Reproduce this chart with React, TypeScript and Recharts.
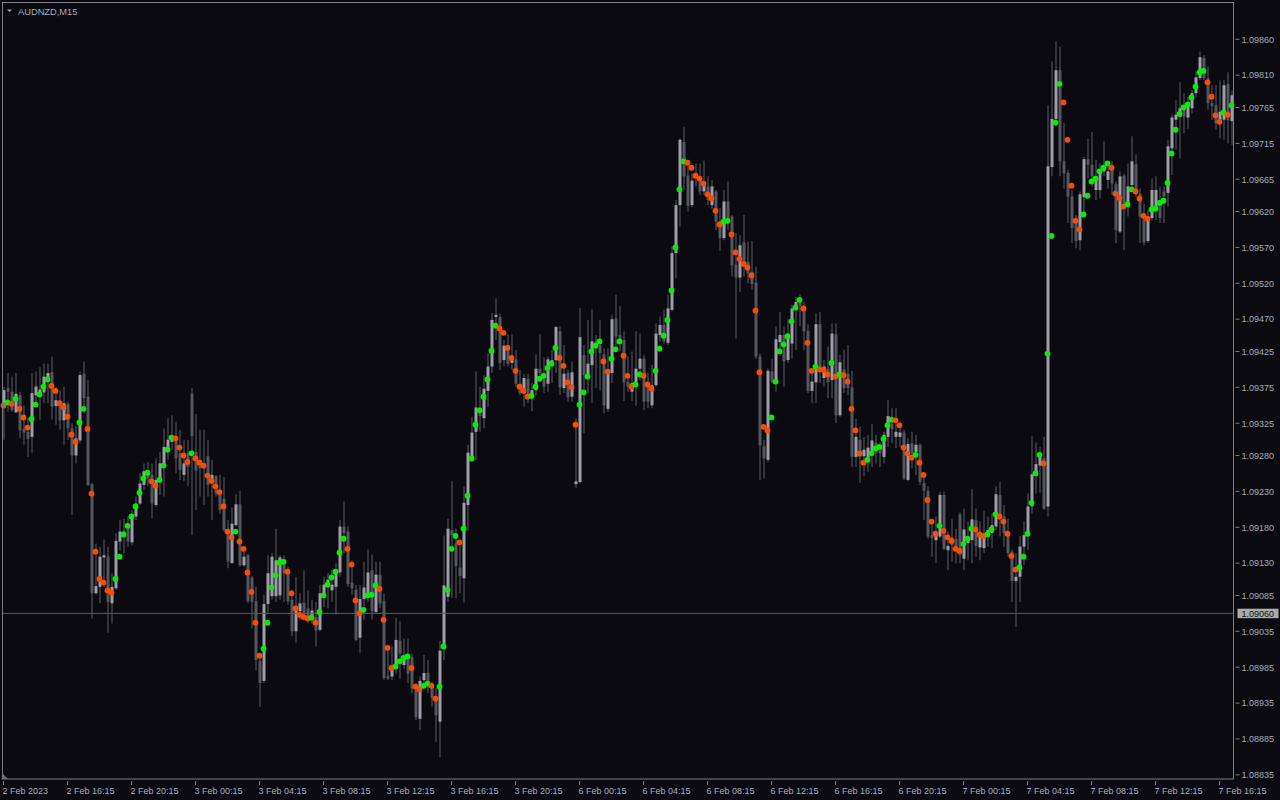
import { ComposedChart, Bar, Line, XAxis, YAxis, ReferenceLine, Cell } from "recharts";

// AUDNZD M15, 2 Feb 2023 12:15 -> 7 Feb 2023 ~17:00
// prices in points: 9350 means 1.09350
const SYMBOL = "AUDNZD,M15";

const OPEN = [
  9346, 9374, 9369, 9340, 9364, 9317, 9313, 9306, 9364, 9367,
  9368, 9385, 9396, 9349, 9356, 9329, 9352, 9318, 9280, 9301,
  9394, 9362, 9240, 9088, 9097, 9138, 9139, 9074, 9095, 9160,
  9175, 9179, 9159, 9195, 9213, 9239, 9258, 9253, 9211, 9244,
  9267, 9290, 9299, 9304, 9283, 9253, 9283, 9366, 9285, 9274,
  9269, 9279, 9241, 9251, 9232, 9220, 9176, 9130, 9183, 9212,
  9127, 9141, 9110, 9077, 8994, 8966, 9073, 9084, 9084, 9085,
  9134, 9116, 9079, 9035, 9063, 9075, 9067, 9055, 9055, 9037,
  9088, 9097, 9092, 9097, 9117, 9181, 9174, 9103, 9093, 9026,
  9080, 9086, 9120, 9062, 9114, 9077, 8973, 8972, 8983, 9022,
  8988, 8999, 8999, 8958, 8913, 8967, 8977, 8958, 8942, 8909,
  9016, 9083, 9176, 9158, 9124, 9109, 9211, 9276, 9313, 9347,
  9332, 9370, 9404, 9473, 9473, 9413, 9434, 9409, 9414, 9380,
  9367, 9387, 9364, 9371, 9401, 9395, 9380, 9407, 9413, 9453,
  9374, 9395, 9362, 9240, 9243, 9420, 9392, 9406, 9439, 9434,
  9421, 9345, 9395, 9471, 9448, 9441, 9383, 9369, 9378, 9401,
  9415, 9376, 9350, 9378, 9448, 9462, 9437, 9483, 9562, 9629,
  9717, 9670, 9629, 9673, 9666, 9648, 9655, 9629, 9648, 9606,
  9583, 9634, 9613, 9546, 9528, 9577, 9550, 9536, 9521, 9418,
  9293, 9274, 9397, 9383, 9438, 9448, 9413, 9436, 9484, 9494,
  9488, 9454, 9370, 9382, 9463, 9388, 9401, 9385, 9449, 9336,
  9400, 9394, 9375, 9278, 9302, 9279, 9276, 9285, 9298, 9292,
  9278, 9306, 9324, 9306, 9306, 9312, 9246, 9297, 9285, 9295,
  9242, 9231, 9169, 9162, 9167, 9225, 9148, 9166, 9164, 9198,
  9136, 9158, 9162, 9190, 9152, 9151, 9169, 9172, 9181, 9225,
  9195, 9172, 9146, 9105, 9111, 9153, 9172, 9209, 9254, 9266,
  9276, 9209, 9682, 9749, 9817, 9690, 9674, 9641, 9611, 9580,
  9640, 9693, 9685, 9650, 9650, 9676, 9664, 9678, 9658, 9592,
  9670, 9631, 9657, 9686, 9645, 9615, 9579, 9611, 9624, 9636,
  9648, 9646, 9708, 9748, 9752, 9768, 9751, 9764, 9785, 9806,
  9834, 9806, 9771, 9768, 9748, 9748, 9798, 9746,
];

const HIGH = [
  9376, 9395, 9390, 9395, 9369, 9350, 9332, 9395, 9397, 9403,
  9408, 9408, 9418, 9376, 9371, 9376, 9355, 9325, 9320, 9397,
  9411, 9385, 9242, 9157, 9153, 9163, 9153, 9116, 9172, 9190,
  9192, 9195, 9204, 9223, 9255, 9269, 9271, 9269, 9276, 9285,
  9318, 9332, 9336, 9327, 9316, 9302, 9302, 9374, 9338, 9316,
  9316, 9302, 9274, 9253, 9253, 9250, 9190, 9208, 9226, 9231,
  9151, 9143, 9112, 9097, 9004, 9086, 9141, 9144, 9178, 9141,
  9141, 9125, 9093, 9111, 9088, 9120, 9092, 9079, 9076, 9100,
  9111, 9116, 9120, 9130, 9190, 9216, 9181, 9134, 9100, 9100,
  9132, 9149, 9142, 9132, 9132, 9087, 9014, 9014, 9054, 9049,
  9025, 9025, 9004, 8963, 8972, 9002, 8995, 8965, 8956, 9022,
  9169, 9192, 9244, 9178, 9160, 9237, 9295, 9334, 9397, 9376,
  9392, 9422, 9479, 9499, 9478, 9441, 9449, 9449, 9427, 9399,
  9394, 9394, 9381, 9421, 9449, 9417, 9418, 9427, 9461, 9460,
  9434, 9399, 9411, 9332, 9486, 9434, 9469, 9484, 9448, 9469,
  9429, 9429, 9476, 9504, 9488, 9453, 9418, 9425, 9453, 9450,
  9420, 9395, 9406, 9464, 9474, 9483, 9504, 9572, 9636, 9722,
  9738, 9692, 9673, 9687, 9687, 9691, 9669, 9664, 9650, 9625,
  9650, 9662, 9615, 9590, 9587, 9615, 9578, 9579, 9543, 9422,
  9302, 9401, 9415, 9460, 9480, 9460, 9470, 9490, 9501, 9505,
  9494, 9463, 9397, 9478, 9480, 9413, 9432, 9464, 9464, 9420,
  9427, 9434, 9398, 9331, 9320, 9306, 9309, 9324, 9309, 9299,
  9313, 9357, 9346, 9346, 9327, 9316, 9304, 9313, 9309, 9297,
  9250, 9237, 9190, 9195, 9230, 9230, 9174, 9192, 9178, 9201,
  9206, 9188, 9233, 9206, 9188, 9203, 9195, 9199, 9237, 9243,
  9211, 9192, 9149, 9144, 9168, 9188, 9227, 9307, 9298, 9292,
  9306, 9768, 9829, 9857, 9850, 9743, 9678, 9650, 9615, 9648,
  9696, 9721, 9731, 9692, 9687, 9718, 9687, 9690, 9662, 9676,
  9673, 9687, 9725, 9700, 9652, 9631, 9622, 9666, 9669, 9655,
  9655, 9720, 9755, 9775, 9800, 9785, 9780, 9789, 9815, 9843,
  9838, 9822, 9796, 9796, 9803, 9803, 9814, 9789,
];

const LOW = [
  9302, 9341, 9341, 9340, 9304, 9295, 9278, 9284, 9348, 9330,
  9353, 9353, 9330, 9323, 9316, 9295, 9302, 9197, 9269, 9297,
  9339, 9237, 9053, 9086, 9074, 9097, 9033, 9046, 9093, 9148,
  9144, 9153, 9155, 9190, 9211, 9232, 9237, 9193, 9209, 9225,
  9223, 9274, 9288, 9255, 9246, 9244, 9237, 9169, 9204, 9223,
  9211, 9223, 9190, 9223, 9199, 9174, 9123, 9130, 9181, 9125,
  9125, 9074, 9039, 8981, 8930, 8963, 9060, 9079, 9076, 9079,
  9076, 9072, 9028, 9019, 9051, 9051, 9046, 9046, 9014, 9035,
  9069, 9067, 9076, 9058, 9111, 9144, 9097, 9086, 9021, 9005,
  9051, 9076, 9051, 9060, 9067, 8967, 8967, 8967, 8976, 8969,
  8983, 8963, 8949, 8911, 8897, 8956, 8949, 8930, 8881, 8860,
  8995, 9076, 9081, 9081, 9088, 9075, 9176, 9274, 9274, 9313,
  9318, 9348, 9395, 9441, 9399, 9404, 9404, 9399, 9376, 9364,
  9348, 9353, 9342, 9364, 9385, 9367, 9369, 9381, 9395, 9364,
  9367, 9355, 9355, 9235, 9241, 9311, 9367, 9353, 9374, 9371,
  9339, 9341, 9381, 9432, 9425, 9356, 9369, 9356, 9349, 9385,
  9343, 9346, 9346, 9376, 9439, 9436, 9434, 9481, 9527, 9599,
  9650, 9620, 9626, 9655, 9643, 9643, 9629, 9624, 9594, 9565,
  9580, 9594, 9529, 9443, 9508, 9529, 9520, 9511, 9415, 9246,
  9248, 9271, 9381, 9369, 9422, 9376, 9409, 9415, 9427, 9460,
  9427, 9367, 9353, 9353, 9381, 9376, 9360, 9360, 9325, 9334,
  9367, 9364, 9264, 9264, 9242, 9251, 9257, 9264, 9269, 9264,
  9269, 9292, 9297, 9290, 9292, 9246, 9244, 9262, 9253, 9239,
  9190, 9164, 9139, 9130, 9165, 9148, 9120, 9132, 9130, 9130,
  9120, 9134, 9130, 9139, 9134, 9144, 9153, 9151, 9176, 9167,
  9153, 9139, 9076, 9041, 9076, 9127, 9148, 9199, 9227, 9228,
  9204, 9195, 9669, 9738, 9669, 9652, 9604, 9576, 9569, 9566,
  9613, 9666, 9655, 9636, 9638, 9669, 9652, 9643, 9576, 9590,
  9566, 9613, 9650, 9641, 9576, 9573, 9576, 9608, 9608, 9604,
  9604, 9627, 9671, 9706, 9694, 9729, 9735, 9757, 9780, 9803,
  9803, 9762, 9748, 9734, 9722, 9720, 9715, 9713,
];

const CLOSE = [
  9371, 9369, 9343, 9366, 9315, 9312, 9303, 9367, 9376, 9372,
  9390, 9395, 9348, 9357, 9329, 9353, 9318, 9280, 9304, 9392,
  9360, 9239, 9088, 9098, 9139, 9141, 9076, 9097, 9161, 9174,
  9167, 9160, 9197, 9213, 9241, 9258, 9248, 9213, 9246, 9269,
  9292, 9302, 9306, 9276, 9260, 9269, 9264, 9307, 9259, 9262,
  9262, 9239, 9253, 9227, 9204, 9176, 9132, 9185, 9212, 9127,
  9139, 9077, 9076, 8995, 8963, 9073, 9116, 9139, 9134, 9138,
  9116, 9077, 9035, 9067, 9074, 9060, 9051, 9064, 9036, 9088,
  9100, 9107, 9100, 9118, 9181, 9172, 9101, 9095, 9023, 9080,
  9096, 9117, 9063, 9114, 9074, 8970, 8969, 8985, 9023, 9004,
  8999, 8976, 8955, 8915, 8966, 8977, 8958, 8942, 8918, 9008,
  9099, 9178, 9169, 9126, 9112, 9214, 9284, 9312, 9347, 9335,
  9373, 9404, 9469, 9476, 9409, 9433, 9408, 9414, 9380, 9367,
  9388, 9364, 9371, 9401, 9395, 9376, 9414, 9413, 9459, 9375,
  9394, 9361, 9396, 9244, 9445, 9392, 9408, 9439, 9432, 9423,
  9350, 9400, 9470, 9446, 9440, 9382, 9376, 9381, 9401, 9415,
  9355, 9355, 9378, 9450, 9462, 9439, 9485, 9562, 9629, 9720,
  9669, 9628, 9663, 9666, 9648, 9662, 9636, 9655, 9606, 9583,
  9634, 9608, 9545, 9528, 9573, 9548, 9534, 9519, 9418, 9294,
  9276, 9398, 9383, 9442, 9448, 9411, 9450, 9485, 9494, 9488,
  9453, 9370, 9383, 9463, 9401, 9404, 9382, 9450, 9336, 9410,
  9374, 9374, 9278, 9306, 9278, 9288, 9291, 9301, 9283, 9283,
  9309, 9335, 9317, 9313, 9312, 9248, 9296, 9283, 9295, 9243,
  9231, 9167, 9165, 9171, 9225, 9150, 9154, 9155, 9148, 9141,
  9177, 9166, 9191, 9154, 9167, 9166, 9176, 9183, 9226, 9191,
  9172, 9144, 9105, 9111, 9153, 9169, 9209, 9254, 9268, 9283,
  9206, 9683, 9749, 9817, 9690, 9673, 9641, 9597, 9579, 9644,
  9693, 9685, 9669, 9669, 9678, 9685, 9676, 9659, 9594, 9669,
  9631, 9655, 9690, 9645, 9613, 9577, 9608, 9650, 9650, 9611,
  9641, 9711, 9751, 9755, 9764, 9752, 9773, 9785, 9807, 9835,
  9806, 9771, 9767, 9743, 9759, 9796, 9747, 9782,
];

// indicator dots (one per bar)
const SIGNAL = [
  9350, 9354, 9352, 9359, 9345, 9333, 9319, 9331, 9351, 9365,
  9376, 9386, 9377, 9370, 9353, 9347, 9334, 9309, 9299, 9326,
  9345, 9317, 9227, 9146, 9108, 9103, 9092, 9089, 9108, 9139,
  9170, 9182, 9195, 9209, 9228, 9248, 9256, 9244, 9238, 9246,
  9266, 9288, 9305, 9304, 9291, 9280, 9271, 9283, 9276, 9270,
  9266, 9252, 9245, 9237, 9229, 9209, 9174, 9166, 9174, 9160,
  9150, 9117, 9090, 9047, 9001, 9011, 9047, 9096, 9113, 9131,
  9132, 9118, 9088, 9067, 9058, 9055, 9053, 9054, 9047, 9062,
  9085, 9100, 9110, 9118, 9145, 9164, 9150, 9128, 9078, 9060,
  9065, 9085, 9086, 9099, 9094, 9051, 9012, 8984, 8986, 8993,
  8998, 9000, 8984, 8958, 8954, 8959, 8962, 8959, 8941, 8958,
  9014, 9093, 9150, 9168, 9159, 9178, 9224, 9276, 9323, 9343,
  9362, 9386, 9426, 9461, 9457, 9451, 9430, 9416, 9398, 9376,
  9370, 9362, 9363, 9376, 9387, 9391, 9402, 9408, 9430, 9416,
  9405, 9382, 9375, 9323, 9351, 9368, 9390, 9425, 9433, 9439,
  9411, 9397, 9415, 9428, 9439, 9419, 9391, 9376, 9379, 9393,
  9391, 9379, 9373, 9398, 9429, 9447, 9469, 9510, 9570, 9651,
  9690, 9688, 9681, 9670, 9666, 9659, 9644, 9638, 9621, 9602,
  9606, 9607, 9588, 9563, 9554, 9547, 9542, 9531, 9482, 9396,
  9320, 9315, 9333, 9383, 9425, 9435, 9446, 9467, 9486, 9497,
  9485, 9437, 9398, 9404, 9400, 9399, 9393, 9409, 9390, 9393,
  9392, 9383, 9345, 9315, 9283, 9270, 9274, 9283, 9290, 9292,
  9303, 9322, 9330, 9329, 9322, 9291, 9283, 9277, 9281, 9270,
  9253, 9218, 9188, 9171, 9182, 9175, 9166, 9161, 9150, 9147,
  9157, 9164, 9178, 9177, 9170, 9168, 9170, 9177, 9198, 9195,
  9188, 9171, 9140, 9121, 9124, 9139, 9171, 9214, 9255, 9281,
  9269, 9422, 9586, 9744, 9798, 9772, 9720, 9656, 9607, 9595,
  9616, 9642, 9662, 9666, 9676, 9681, 9687, 9681, 9645, 9639,
  9627, 9630, 9651, 9648, 9638, 9614, 9610, 9623, 9624, 9632,
  9635, 9660, 9701, 9734, 9756, 9765, 9769, 9779, 9794, 9814,
  9816, 9800, 9780, 9754, 9745, 9758, 9755, 9768,
];

const PRICE_TICKS = [
  9860, 9810, 9765, 9715, 9665, 9620, 9570, 9520, 9470, 9425, 9375,
  9325, 9280, 9230, 9180, 9130, 9085, 9035, 8985, 8935, 8885, 8835,
];
const CURRENT_PRICE = 9060;

const TIME_TICK_BARS = [
  0, 16, 32, 48, 64, 80, 96, 112, 128, 144,
  160, 176, 192, 208, 224, 240, 256, 272, 288, 304,
];
const TIME_TICK_LABELS = [
  "2 Feb 2023", "2 Feb 16:15", "2 Feb 20:15", "3 Feb 00:15", "3 Feb 04:15",
  "3 Feb 08:15", "3 Feb 12:15", "3 Feb 16:15", "3 Feb 20:15", "6 Feb 00:15",
  "6 Feb 04:15", "6 Feb 08:15", "6 Feb 12:15", "6 Feb 16:15", "6 Feb 20:15",
  "7 Feb 00:15", "7 Feb 04:15", "7 Feb 08:15", "7 Feb 12:15", "7 Feb 16:15",
];

const BG = "#0a0a10";
const FRAME = "#7c7c84";
const LABEL = "#a3abbc";
const WICK = "#5c5c64";
const BULL = "#9e9eaa";
const BEAR = "#55555d";
const DOT_UP = "#00f000";
const DOT_DOWN = "#ff4a00";
const FONT = "'Liberation Sans', Arial, sans-serif";

const px = (p: number) => 1 + p / 100000;

const rows = OPEN.map((o, i) => {
  const c = CLOSE[i];
  return {
    i,
    wick: [px(Math.min(LOW[i], o, c)), px(Math.max(HIGH[i], o, c))],
    body: [px(Math.min(o, c)), px(Math.max(o, c))],
    up: c > o,
    signal: px(SIGNAL[i]),
    rising: i > 0 && SIGNAL[i] > SIGNAL[i - 1],
  };
});

function PriceTick(props: any) {
  const { x, y, payload } = props;
  const v: number = payload.value;
  if (Math.abs(v - px(CURRENT_PRICE)) < 1e-7) {
    return (
      <g>
        <rect x={x + 2} y={y - 4.7} width={41} height={9.5} fill="#ababab" />
        <text x={x + 6} y={y + 3.3} fill="#111" fontSize={9} fontFamily={FONT}>
          {v.toFixed(5)}
        </text>
      </g>
    );
  }
  return (
    <g>
      <line x1={x} x2={x + 4} y1={y} y2={y} stroke={FRAME} />
      <text x={x + 6} y={y + 3.3} fill={LABEL} fontSize={9} fontFamily={FONT}>
        {v.toFixed(5)}
      </text>
    </g>
  );
}

function TimeTick(props: any) {
  const { x, y, payload } = props;
  const k = TIME_TICK_BARS.indexOf(payload.value);
  return (
    <g>
      <line x1={x} x2={x} y1={y} y2={y + 4} stroke={FRAME} />
      <text x={x - 1} y={y + 13} fill={LABEL} fontSize={9} fontFamily={FONT} textAnchor="start">
        {TIME_TICK_LABELS[k]}
      </text>
    </g>
  );
}

function SignalDot(props: any) {
  const { cx, cy, payload, index } = props;
  if (cx == null || cy == null) return <g key={`s${index}`} />;
  return <circle key={`s${index}`} cx={cx} cy={cy} r={2.9} fill={payload.rising ? DOT_UP : DOT_DOWN} />;
}

export default function App() {
  const yTicks = [...PRICE_TICKS, CURRENT_PRICE].map(px);
  return (
    <div style={{ position: "fixed", left: 0, top: 0, width: 1280, height: 800, background: BG }}>
      <ComposedChart
        width={1280}
        height={800}
        data={rows}
        margin={{ top: 2, right: 0, bottom: 0, left: 1.5 }}
        barCategoryGap={0}
        barGap={0}
      >
        <XAxis xAxisId="w" dataKey="i" hide />
        <XAxis
          xAxisId="b"
          dataKey="i"
          height={21}
          ticks={TIME_TICK_BARS}
          interval={0}
          tick={<TimeTick />}
          tickLine={false}
          tickSize={0}
          axisLine={{ stroke: FRAME }}
        />
        <YAxis
          orientation="right"
          width={46.5}
          domain={[px(8829.2), px(9912.0)]}
          allowDataOverflow
          ticks={yTicks}
          interval={0}
          tick={<PriceTick />}
          tickLine={false}
          tickSize={0}
          axisLine={{ stroke: FRAME }}
        />
        <ReferenceLine xAxisId="b" y={px(CURRENT_PRICE)} stroke="#5a5a60" />
        <Bar xAxisId="w" dataKey="wick" barSize={1} fill={WICK} isAnimationActive={false} />
        <Bar xAxisId="b" dataKey="body" barSize={3} isAnimationActive={false}>
          {rows.map((r) => (
            <Cell key={`c${r.i}`} fill={r.up ? BULL : BEAR} />
          ))}
        </Bar>
        <Line
          xAxisId="b"
          dataKey="signal"
          stroke="none"
          dot={SignalDot}
          activeDot={false}
          isAnimationActive={false}
        />
      </ComposedChart>
      <svg
        width={1280}
        height={800}
        style={{ position: "absolute", left: 0, top: 0, pointerEvents: "none" }}
      >
        <line x1={2.5} x2={2.5} y1={2} y2={779} stroke={FRAME} />
        <line x1={2} x2={1234} y1={2.5} y2={2.5} stroke={FRAME} />
        <polygon points="3,774 3,779 8,779" fill="#6c6c72" />
        <polygon points="7,9.5 12,9.5 9.5,12" fill={LABEL} />
        <text x={18} y={15} fill={LABEL} fontSize={9.3} fontFamily={FONT}>
          {SYMBOL}
        </text>
      </svg>
    </div>
  );
}
